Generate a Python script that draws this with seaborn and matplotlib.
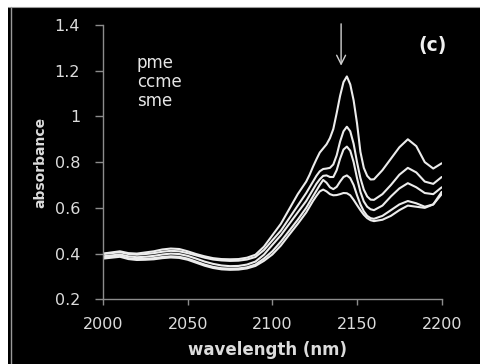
import numpy as np
import pandas as pd
import matplotlib
matplotlib.use("Agg")
import matplotlib.pyplot as plt
from matplotlib.patches import Rectangle
from matplotlib.lines import Line2D
import seaborn as sns

# Wavelength grid (nm) shared by all spectra
wavelength = [2000, 2005, 2010, 2015, 2020, 2025, 2030, 2035, 2040, 2045,
              2050, 2055, 2060, 2065, 2070, 2075, 2080, 2085, 2090, 2095,
              2100, 2105, 2110, 2115, 2120, 2122, 2124, 2126, 2128, 2130,
              2132, 2134, 2136, 2138, 2140, 2142, 2144, 2146, 2148, 2150,
              2152, 2154, 2156, 2158, 2160, 2165, 2170, 2175, 2180, 2185,
              2190, 2195, 2200]

spectrum_1 = [0.400, 0.405, 0.410, 0.402, 0.400, 0.405, 0.410, 0.418, 0.422, 0.420,
              0.410, 0.398, 0.388, 0.380, 0.376, 0.375, 0.376, 0.382, 0.395, 0.430,
              0.480, 0.530, 0.595, 0.660, 0.715, 0.745, 0.780, 0.812, 0.842, 0.860,
              0.878, 0.905, 0.945, 1.015, 1.090, 1.150, 1.175, 1.140, 1.070, 0.970,
              0.845, 0.775, 0.740, 0.724, 0.725, 0.765, 0.815, 0.865, 0.900, 0.870,
              0.800, 0.772, 0.795]

spectrum_2 = [0.398, 0.402, 0.406, 0.398, 0.395, 0.398, 0.402, 0.408, 0.412, 0.410,
              0.402, 0.392, 0.382, 0.374, 0.370, 0.368, 0.369, 0.374, 0.385, 0.415,
              0.458, 0.500, 0.555, 0.610, 0.665, 0.690, 0.715, 0.740, 0.760, 0.770,
              0.772, 0.775, 0.790, 0.830, 0.890, 0.935, 0.955, 0.935, 0.880, 0.800,
              0.730, 0.680, 0.650, 0.636, 0.635, 0.660, 0.700, 0.745, 0.775, 0.755,
              0.715, 0.705, 0.735]

spectrum_3 = [0.388, 0.392, 0.396, 0.388, 0.384, 0.386, 0.390, 0.396, 0.400, 0.398,
              0.390, 0.378, 0.365, 0.355, 0.348, 0.345, 0.346, 0.352, 0.365, 0.395,
              0.438, 0.480, 0.530, 0.580, 0.630, 0.655, 0.680, 0.705, 0.725, 0.740,
              0.742, 0.735, 0.735, 0.765, 0.815, 0.855, 0.868, 0.850, 0.800, 0.730,
              0.670, 0.628, 0.605, 0.594, 0.590, 0.610, 0.650, 0.685, 0.708, 0.690,
              0.665, 0.660, 0.690]

spectrum_4 = [0.382, 0.386, 0.390, 0.380, 0.376, 0.377, 0.380, 0.385, 0.388, 0.386,
              0.378, 0.365, 0.352, 0.342, 0.336, 0.334, 0.335, 0.340, 0.352, 0.378,
              0.410, 0.452, 0.500, 0.548, 0.600, 0.625, 0.650, 0.675, 0.700, 0.722,
              0.710, 0.690, 0.682, 0.692, 0.715, 0.735, 0.742, 0.730, 0.700, 0.655,
              0.615, 0.585, 0.565, 0.555, 0.552, 0.565, 0.590, 0.615, 0.630, 0.620,
              0.605, 0.615, 0.670]

spectrum_5 = [0.378, 0.382, 0.386, 0.376, 0.372, 0.373, 0.375, 0.380, 0.383, 0.381,
              0.373, 0.360, 0.347, 0.337, 0.331, 0.329, 0.330, 0.335, 0.346, 0.368,
              0.396, 0.435, 0.483, 0.530, 0.580, 0.605, 0.630, 0.652, 0.672, 0.680,
              0.672, 0.660, 0.655, 0.656, 0.660, 0.665, 0.664, 0.655, 0.635, 0.612,
              0.590, 0.570, 0.555, 0.546, 0.542, 0.548, 0.565, 0.590, 0.610, 0.605,
              0.600, 0.615, 0.660]

sample_labels = ["pme", "ccme", "sme"]
x_ticks = [2000, 2050, 2100, 2150, 2200]
y_ticks = [0.2, 0.4, 0.6, 0.8, 1.0, 1.2, 1.4]
y_tick_labels = ["0.2", "0.4", "0.6", "0.8", "1", "1.2", "1.4"]

spectra = [spectrum_1, spectrum_2, spectrum_3, spectrum_4, spectrum_5]
frames = []
for i, s in enumerate(spectra):
    frames.append(pd.DataFrame({"wavelength": wavelength,
                                "absorbance": s,
                                "sample": f"s{i + 1}"}))
df = pd.concat(frames, ignore_index=True)

sns.set_style("dark", {"axes.facecolor": "black", "figure.facecolor": "black"})
plt.rcParams["font.family"] = ["DejaVu Sans"]

fig = plt.figure(figsize=(4.81, 3.64), dpi=100)
fig.patch.set_facecolor("black")

# white margins at the top and left edge, and a thin grey frame line
fig.add_artist(Rectangle((0, 0), 8 / 481, 1, transform=fig.transFigure,
                         facecolor="white", edgecolor="none"))
fig.add_artist(Rectangle((0, 357 / 364), 1, 7 / 364, transform=fig.transFigure,
                         facecolor="white", edgecolor="none"))
fig.add_artist(Line2D([10.5 / 481, 10.5 / 481], [0, 357 / 364], transform=fig.transFigure,
                      color="#9a9a9a", linewidth=1.0))
fig.add_artist(Line2D([8 / 481, 1], [357 / 364, 357 / 364], transform=fig.transFigure,
                      color="#9a9a9a", linewidth=0.8))

ax = fig.add_axes([103 / 481, 1 - 299.3 / 364, (441.7 - 103) / 481, (299.3 - 25) / 364])
ax.set_facecolor("black")

sns.lineplot(data=df, x="wavelength", y="absorbance", hue="sample",
             palette=["#ececec"] * len(spectra), legend=False, errorbar=None,
             linewidth=1.5, ax=ax)

ax.set_xlim(2000, 2200)
ax.set_ylim(0.2, 1.4)
ax.set_xticks(x_ticks)
ax.set_xticklabels([str(t) for t in x_ticks])
ax.set_yticks(y_ticks)
ax.set_yticklabels(y_tick_labels)
ax.grid(False)

for side in ["top", "right"]:
    ax.spines[side].set_visible(False)
for side in ["left", "bottom"]:
    ax.spines[side].set_visible(True)
    ax.spines[side].set_color("#8c8c8c")
    ax.spines[side].set_linewidth(1.0)

ax.tick_params(axis="both", direction="out", width=1.0, color="#8c8c8c",
               labelcolor="#dcdcdc", labelsize=11.5, left=True, bottom=True)
ax.tick_params(axis="x", length=4.5, pad=8)
ax.tick_params(axis="y", length=5.5, pad=11)

ax.set_xlabel("wavelength (nm)", color="#dcdcdc", fontsize=12, fontweight="bold")
ax.set_ylabel("absorbance", color="#dcdcdc", fontsize=10, fontweight="bold")
ax.xaxis.set_label_coords(0.487, -0.152)
ax.yaxis.set_label_coords(-0.165, 0.5)

for k, lab in enumerate(sample_labels):
    ax.text(0.1, 0.86 - k * 0.068, lab, transform=ax.transAxes, color="#e6e6e6",
            fontsize=12, va="center", ha="left")

ax.text(1.016, 0.925, "(c)", transform=ax.transAxes, color="#f0f0f0",
        fontsize=13.5, fontweight="bold", ha="right", va="center")

ax.annotate("", xy=(2140.6, 1.222), xytext=(2140.6, 1.405),
            arrowprops=dict(arrowstyle="->", color="#d0d0d0", lw=1.0,
                            mutation_scale=16, shrinkA=0, shrinkB=0),
            annotation_clip=False)

fig.savefig("out.png", dpi=100, facecolor=fig.get_facecolor())
